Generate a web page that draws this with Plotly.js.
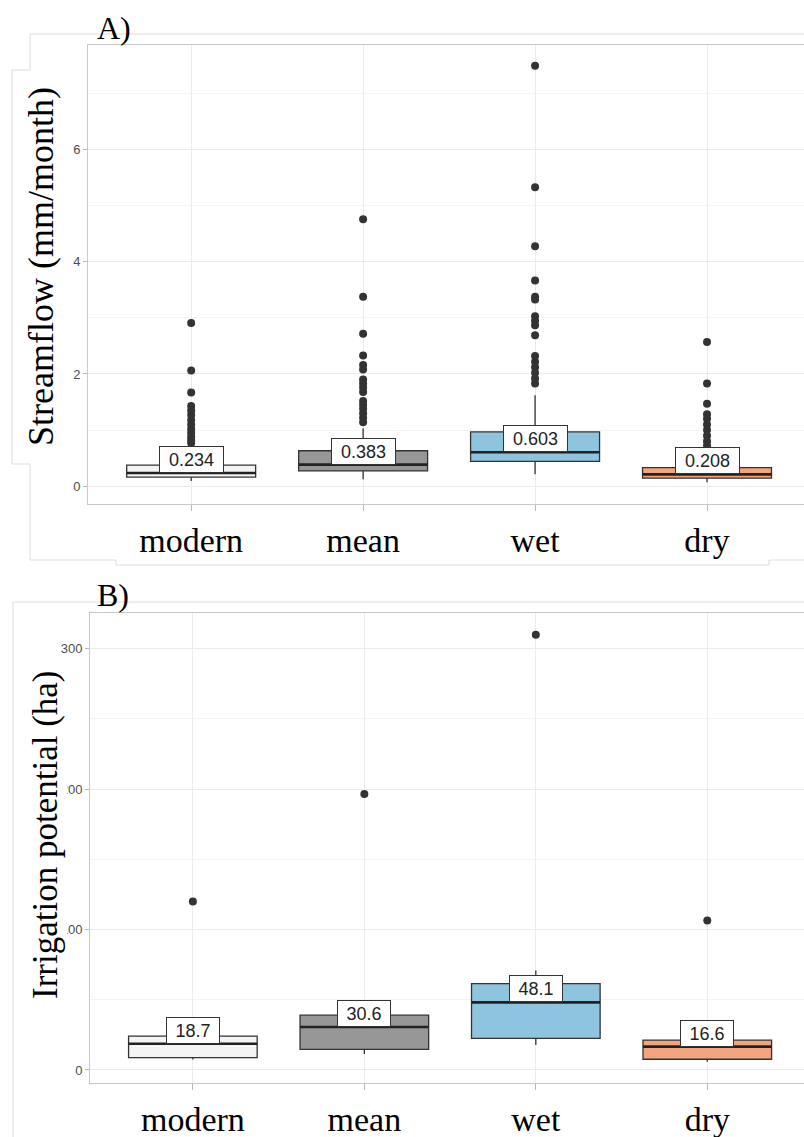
<!DOCTYPE html>
<html>
<head>
<meta charset="utf-8">
<script src="https://cdn.plot.ly/plotly-3.0.1.min.js"></script>
<style>
  html, body { margin: 0; padding: 0; background: #ffffff; overflow: hidden; }
  #chart { width: 804px; height: 1137px; }
</style>
</head>
<body>
<div id="chart"></div>
<script>
// ---------------- DATA ----------------
const categories = ['modern', 'mean', 'wet', 'dry'];

// Panel A: Streamflow (mm/month)
const flowQ1     = [0.16, 0.27, 0.44, 0.14];
const flowMedian = [0.234, 0.383, 0.603, 0.208];
const flowQ3     = [0.374, 0.63, 0.966, 0.33];
const flowLower  = [0.09, 0.12, 0.21, 0.07];
const flowUpper  = [0.69, 1.03, 1.62, 0.60];
const flowOutModern = [2.91, 2.06, 1.67, 1.43, 1.35, 1.27, 1.18, 1.10, 1.02, 0.95, 0.88, 0.82, 0.77];
const flowOutMean   = [4.76, 3.38, 2.72, 2.33, 2.16, 2.08, 1.90, 1.83, 1.76, 1.68, 1.52, 1.45, 1.38, 1.30, 1.22, 1.14];
const flowOutWet    = [7.50, 5.33, 4.28, 3.67, 3.38, 3.33, 3.03, 2.95, 2.87, 2.69, 2.32, 2.22, 2.12, 2.02, 1.92, 1.83];
const flowOutDry    = [2.57, 1.83, 1.47, 1.28, 1.20, 1.10, 1.00, 0.90, 0.80, 0.72];

// Panel B: Irrigation potential (ha)
const irrQ1     = [8.7, 14.7, 22.5, 7.6];
const irrMedian = [18.7, 30.6, 48.1, 16.6];
const irrQ3     = [24.1, 39.0, 61.5, 21.3];
const irrLower  = [7.5, 11.3, 17.7, 5.9];
const irrUpper  = [33.0, 45.0, 70.9, 26.0];
const irrOutModern = [120.0];
const irrOutMean   = [196.5];
const irrOutWet    = [310.0];
const irrOutDry    = [106.4];

// ---------------- STYLE ----------------
const fills = ['#f4f4f4', '#979797', '#8ec4de', '#f3a57f'];
const BOX_W = 0.75;
const W = 804, H = 1137;
const px = x => x / W;
const py = y => 1 - y / H;
const SERIF = 'Liberation Serif, Times New Roman, serif';
const SANS = 'Liberation Sans, Arial, sans-serif';

const traces = [];
const annotations = [];

function addPanel(xa, ya, q1, med, q3, lo, hi, outs, decimals) {
  categories.forEach((c, i) => {
    traces.push({
      type: 'box', x: [i], q1: [q1[i]], median: [med[i]], q3: [q3[i]],
      lowerfence: [lo[i]], upperfence: [hi[i]],
      xaxis: xa, yaxis: ya, width: BOX_W, fillcolor: fills[i],
      line: { color: '#333333', width: 1.3 }, whiskerwidth: 0,
      boxpoints: false, hoverinfo: 'skip', showlegend: false
    });
    traces.push({
      type: 'scatter', mode: 'lines', xaxis: xa, yaxis: ya,
      x: [i - BOX_W / 2, i + BOX_W / 2], y: [med[i], med[i]],
      line: { color: '#222222', width: 2.6 }, hoverinfo: 'skip', showlegend: false
    });
    traces.push({
      type: 'scatter', mode: 'markers', xaxis: xa, yaxis: ya,
      x: outs[i].map(() => i), y: outs[i],
      marker: { size: 8, color: '#333333' }, hoverinfo: 'skip', showlegend: false
    });
    const t = med[i].toFixed(decimals);
    annotations.push({
      xref: xa, yref: ya, x: i, y: med[i], yshift: 13.5, text: t, showarrow: false,
      font: { family: SANS, size: 18, color: '#222222' },
      bgcolor: '#ffffff', bordercolor: '#333333', borderwidth: 1, borderpad: 2,
      width: 11 * t.length + 4, height: 21
    });
  });
}

addPanel('x', 'y', flowQ1, flowMedian, flowQ3, flowLower, flowUpper,
  [flowOutModern, flowOutMean, flowOutWet, flowOutDry], 3);
addPanel('x2', 'y2', irrQ1, irrMedian, irrQ3, irrLower, irrUpper,
  [irrOutModern, irrOutMean, irrOutWet, irrOutDry], 1);

// titles & panel labels
annotations.push(
  { xref: 'paper', yref: 'paper', x: px(95), y: py(28), xanchor: 'left', yanchor: 'middle',
    text: 'A)', showarrow: false, font: { family: SERIF, size: 32, color: '#000' } },
  { xref: 'paper', yref: 'paper', x: px(95), y: py(595), xanchor: 'left', yanchor: 'middle',
    text: 'B)', showarrow: false, font: { family: SERIF, size: 32, color: '#000' } },
  { xref: 'paper', yref: 'paper', x: px(41), y: py(267), xanchor: 'center', yanchor: 'middle',
    textangle: -90, text: 'Streamflow (mm/month)', showarrow: false,
    font: { family: SERIF, size: 36, color: '#000' } },
  { xref: 'paper', yref: 'paper', x: px(45), y: py(835), xanchor: 'center', yanchor: 'middle',
    textangle: -90, text: 'Irrigation potential (ha)', showarrow: false,
    font: { family: SERIF, size: 35, color: '#000' } }
);

const frameLine = { color: '#dcdcdc', width: 1 };
const shapes = [
  // composite frame lines (panel A)
  { type: 'path', xref: 'paper', yref: 'paper', line: frameLine,
    path: `M ${px(804)} ${py(34)} L ${px(30)} ${py(34)} L ${px(30)} ${py(70)} L ${px(12)} ${py(70)} L ${px(12)} ${py(464)} L ${px(30)} ${py(464)} L ${px(30)} ${py(560)} L ${px(116)} ${py(560)} L ${px(116)} ${py(565)} L ${px(769)} ${py(565)} L ${px(769)} ${py(560)} L ${px(804)} ${py(560)}` },
  // composite frame lines (panel B)
  { type: 'path', xref: 'paper', yref: 'paper', line: frameLine,
    path: `M ${px(804)} ${py(602)} L ${px(13)} ${py(602)} L ${px(13)} ${py(1137)}` },
  // pasted title patch covering part of tick labels
  { type: 'rect', xref: 'paper', yref: 'paper', layer: 'above',
    x0: px(15), x1: px(67), y0: py(1060), y1: py(660),
    fillcolor: '#ffffff', line: { width: 0 } }
];

function xAxis(domainLeft, anchor) {
  return {
    domain: [px(domainLeft), 1], anchor: anchor, range: [-0.6, 3.564],
    tickvals: categories.map((c, i) => i), ticktext: categories,
    showgrid: true, gridcolor: '#ebebeb', gridwidth: 1,
    ticks: 'outside', ticklen: 6, tickcolor: '#b8b8b8', tickwidth: 1,
    tickfont: { family: SERIF, size: 34, color: '#000' }, ticklabelstandoff: 0,
    showline: true, mirror: true, linecolor: '#c8c8c8', linewidth: 1,
    zeroline: false, fixedrange: true
  };
}
function yAxis(top, bottom, anchor, range, dtick) {
  return {
    domain: [py(bottom), py(top)], anchor: anchor, range: range,
    tick0: 0, dtick: dtick,
    minor: { dtick: dtick / 2, tick0: 0, showgrid: true, gridcolor: '#f4f4f4', gridwidth: 1 },
    showgrid: true, gridcolor: '#ebebeb', gridwidth: 1,
    ticks: 'outside', ticklen: 4, tickcolor: '#b8b8b8', tickwidth: 1,
    tickfont: { family: SANS, size: 13, color: '#4d4d4d' },
    showline: true, linecolor: '#c8c8c8', linewidth: 1,
    zeroline: false, fixedrange: true
  };
}

const layout = {
  width: W, height: H,
  margin: { l: 0, r: 0, t: 0, b: 0, pad: 0 },
  paper_bgcolor: '#ffffff', plot_bgcolor: '#ffffff',
  showlegend: false,
  xaxis: xAxis(88, 'y'),
  yaxis: yAxis(45, 504, 'x', [-0.32, 7.87], 2),
  xaxis2: xAxis(90, 'y2'),
  yaxis2: yAxis(613, 1083, 'x2', [-9.3, 325.4], 100),
  annotations: annotations,
  shapes: shapes
};

Plotly.newPlot('chart', traces, layout, { displayModeBar: false, staticPlot: true });
</script>
</body>
</html>
